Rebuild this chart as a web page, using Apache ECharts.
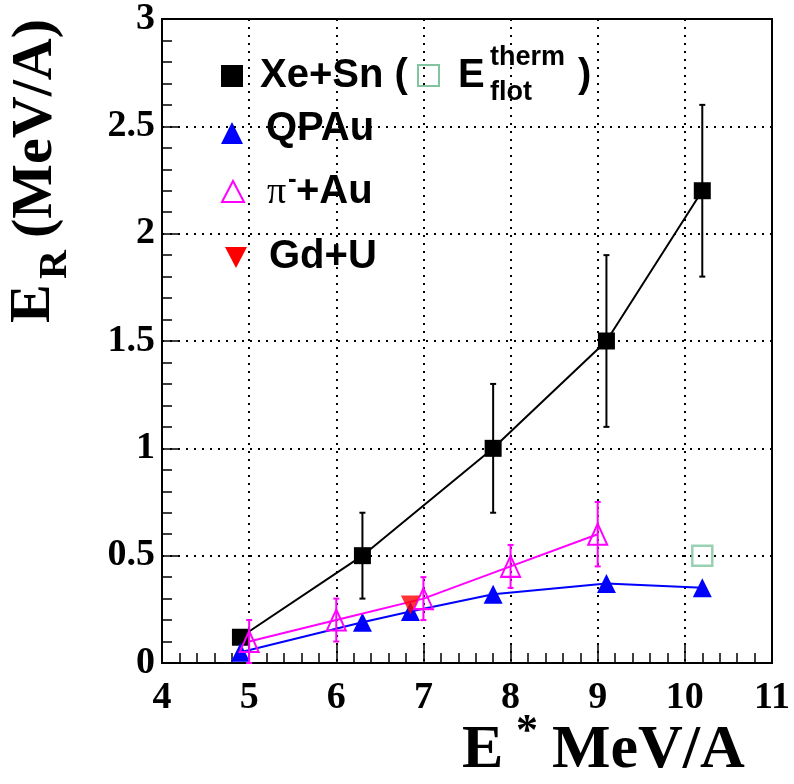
<!DOCTYPE html>
<html>
<head>
<meta charset="utf-8">
<script src="https://cdn.jsdelivr.net/npm/echarts@6/dist/echarts.min.js"></script>
<style>html,body{margin:0;padding:0;background:#fff;}#c{width:794px;height:784px;}</style>
</head>
<body>
<div id="c"></div>
<script>
// ---- data ----
const xeX = [4.9, 6.3, 7.8, 9.1, 10.2];
const xeY = [0.12, 0.5, 1.0, 1.5, 2.2];
const xeErr = [0, 0.2, 0.3, 0.4, 0.4];
const qpX = [4.9, 6.3, 6.85, 7.8, 9.1, 10.2];
const qpY = [0.05, 0.19, 0.24, 0.32, 0.37, 0.35];
const piX = [5, 6, 7, 8, 9];
const piY = [0.1, 0.2, 0.3, 0.45, 0.6];
const piErr = [0.1, 0.1, 0.1, 0.1, 0.15];
const gdX = [6.85];
const gdY = [0.27];
const thermX = [10.2];
const thermY = [0.5];
const xTicks = [4, 5, 6, 7, 8, 9, 10, 11];
const yTicks = [0, 0.5, 1, 1.5, 2, 2.5, 3];

const pairs = (xs, ys) => xs.map((x, i) => [x, ys[i]]);
const triples = (xs, ys, es) => xs.map((x, i) => [x, ys[i], es[i]]);

function errBar(color) {
  return function (params, api) {
    const x = api.value(0), y = api.value(1), e = api.value(2);
    if (!e) return null;
    const t = api.coord([x, y + e]);
    const b = api.coord([x, Math.max(0, y - e)]);
    const st = { stroke: color, lineWidth: 2 };
    return {
      type: 'group', children: [
        { type: 'line', shape: { x1: t[0], y1: t[1], x2: b[0], y2: b[1] }, style: st },
        { type: 'line', shape: { x1: t[0] - 3, y1: t[1], x2: t[0] + 3, y2: t[1] }, style: st },
        { type: 'line', shape: { x1: b[0] - 3, y1: b[1], x2: b[0] + 3, y2: b[1] }, style: st }
      ]
    };
  };
}

const serif = '"Liberation Serif", "Times New Roman", serif';
const sans = '"Liberation Sans", Arial, Helvetica, sans-serif';

const chart = echarts.init(document.getElementById('c'), null, { renderer: 'canvas' });
const axisCommon = {
  axisLine: { show: true, lineStyle: { color: '#000', width: 2 } },
  axisTick: { show: true, inside: true, length: 18, lineStyle: { color: '#000', width: 1.5 } },
  minorTick: { show: true, splitNumber: 5, length: 10, lineStyle: { color: '#000', width: 1.5 } },
  splitLine: { show: true, lineStyle: { color: '#000', width: 2, type: [2, 6] } },
  axisLabel: { color: '#000', fontFamily: serif, fontWeight: 'bold', fontSize: 38 }
};
chart.setOption({
  animation: false,
  grid: { left: 162, right: 22, top: 19, bottom: 121, show: true, borderColor: '#000', borderWidth: 2, backgroundColor: 'transparent' },
  xAxis: Object.assign({}, axisCommon, {
    type: 'value', min: xTicks[0], max: xTicks[xTicks.length - 1], interval: 1,
    axisLabel: Object.assign({}, axisCommon.axisLabel, { margin: 16 })
  }),
  yAxis: Object.assign({}, axisCommon, {
    type: 'value', min: yTicks[0], max: yTicks[yTicks.length - 1], interval: 0.5,
    axisLabel: Object.assign({}, axisCommon.axisLabel, { margin: 7 })
  }),
  series: [
    { type: 'line', name: 'Xe+Sn', data: pairs(xeX, xeY), symbol: 'rect', symbolSize: 17,
      lineStyle: { color: '#000', width: 2 }, itemStyle: { color: '#000' }, z: 3 },
    { type: 'custom', renderItem: errBar('#000'), data: triples(xeX, xeY, xeErr), z: 2 },
    { type: 'line', name: 'QPAu', data: pairs(qpX, qpY), symbol: 'triangle', symbolSize: [19, 19],
      lineStyle: { color: '#0000ff', width: 2 }, itemStyle: { color: '#0000ff' }, z: 3 },
    { type: 'line', name: 'pi', data: pairs(piX, piY), symbol: 'triangle', symbolSize: [19, 21],
      lineStyle: { color: '#ff00ff', width: 2 },
      itemStyle: { color: 'rgba(0,0,0,0)', borderColor: '#ff00ff', borderWidth: 2 }, z: 4 },
    { type: 'custom', renderItem: errBar('#ff00ff'), data: triples(piX, piY, piErr), z: 4 },
    { type: 'scatter', name: 'Gd+U', data: pairs(gdX, gdY), symbol: 'triangle', symbolRotate: 180, symbolSize: [19, 19],
      itemStyle: { color: '#ff0000' }, z: 5 },
    { type: 'scatter', name: 'therm', data: pairs(thermX, thermY), symbol: 'rect', symbolSize: 20,
      itemStyle: { color: 'rgba(0,0,0,0)', borderColor: '#80c4a0', borderWidth: 2.5 }, z: 5 }
  ],
  graphic: [
    // legend
    { type: 'rect', shape: { x: 221, y: 65, width: 22, height: 22 }, style: { fill: '#000' } },
    { type: 'text', x: 260, y: 76, style: { text: 'Xe+Sn (', font: 'bold 40px ' + sans, fill: '#000', verticalAlign: 'middle' } },
    { type: 'rect', shape: { x: 418, y: 65, width: 21, height: 21 }, style: { fill: 'none', stroke: '#80c4a0', lineWidth: 2 } },
    { type: 'text', x: 458, y: 76, style: { text: 'E', font: 'bold 40px ' + sans, fill: '#000', verticalAlign: 'middle' } },
    { type: 'text', x: 490, y: 58, style: { text: 'therm', font: 'bold 27px ' + sans, fill: '#000', verticalAlign: 'middle' } },
    { type: 'text', x: 490, y: 93, style: { text: 'flot', font: 'bold 27px ' + sans, fill: '#000', verticalAlign: 'middle' } },
    { type: 'text', x: 578, y: 76, style: { text: ')', font: 'bold 40px ' + sans, fill: '#000', verticalAlign: 'middle' } },
    { type: 'polygon', shape: { points: [[232, 122], [243, 144], [221, 144]] }, style: { fill: '#0000ff' } },
    { type: 'text', x: 266, y: 129, style: { text: 'QPAu', font: 'bold 40px ' + sans, fill: '#000', verticalAlign: 'middle' } },
    { type: 'polygon', shape: { points: [[233, 181], [244, 202], [222, 202]] }, style: { fill: 'none', stroke: '#ff00ff', lineWidth: 2 } },
    { type: 'text', x: 267, y: 193, style: { text: 'π', font: '38px ' + serif, fill: '#000', verticalAlign: 'middle' } },
    { type: 'text', x: 288, y: 180, style: { text: '-', font: 'bold 26px ' + sans, fill: '#000', verticalAlign: 'middle' } },
    { type: 'text', x: 296, y: 192, style: { text: '+Au', font: 'bold 40px ' + sans, fill: '#000', verticalAlign: 'middle' } },
    { type: 'polygon', shape: { points: [[225, 247], [247, 247], [236, 268]] }, style: { fill: '#ff0000' } },
    { type: 'text', x: 269, y: 257, style: { text: 'Gd+U', font: 'bold 40px ' + sans, fill: '#000', verticalAlign: 'middle' } },
    // y axis title
    { type: 'text', x: 34, y: 323, rotation: Math.PI / 2, style: { text: 'E', font: 'bold 58px ' + serif, fill: '#000', verticalAlign: 'middle', align: 'left' } },
    { type: 'text', x: 56, y: 279, rotation: Math.PI / 2, style: { text: 'R', font: 'bold 40px ' + serif, fill: '#000', verticalAlign: 'middle', align: 'left' } },
    { type: 'text', x: 36, y: 238, rotation: Math.PI / 2, style: { text: '(MeV/A)', font: 'bold 58px ' + serif, fill: '#000', verticalAlign: 'middle', align: 'left' } },
    // x axis title
    { type: 'text', x: 462, y: 751, style: { text: 'E', font: 'bold 62px ' + serif, fill: '#000', verticalAlign: 'middle' } },
    { type: 'text', x: 516, y: 733, style: { text: '*', font: 'bold 44px ' + serif, fill: '#000', verticalAlign: 'middle' } },
    { type: 'text', x: 552, y: 751, style: { text: 'MeV/A', font: 'bold 62px ' + serif, fill: '#000', verticalAlign: 'middle' } }
  ]
});
</script>
</body>
</html>
